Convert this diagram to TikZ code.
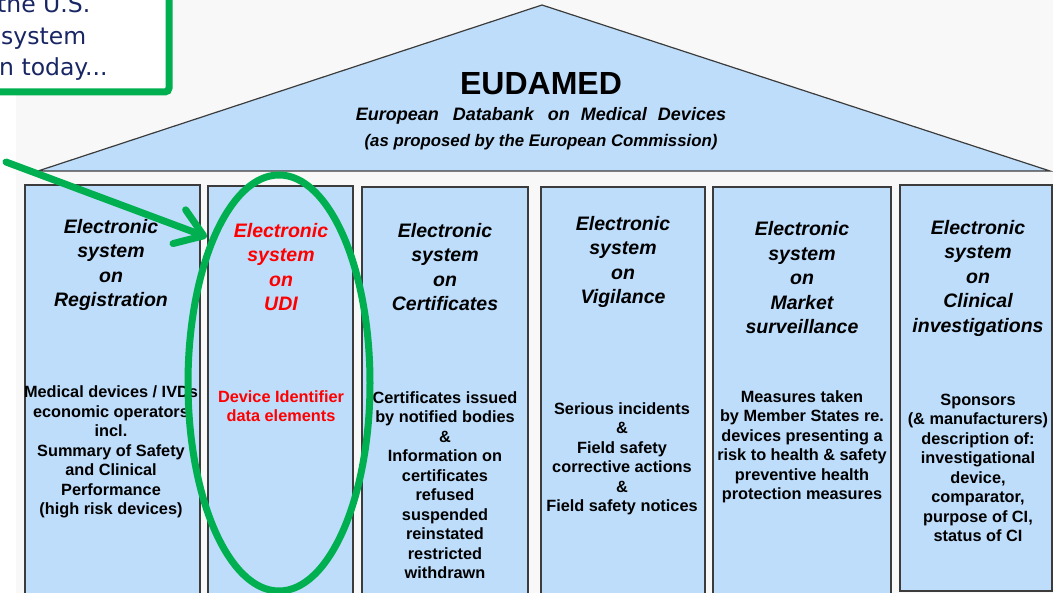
\documentclass[tikz,border=0pt]{standalone}
\usepackage{fontspec}
\setmainfont{Liberation Sans}
\newfontfamily\callfont{DejaVu Sans}
\usetikzlibrary{arrows.meta,shapes.geometric}
\definecolor{boxblue}{RGB}{189,221,251}
\definecolor{edgegray}{RGB}{60,60,60}
\definecolor{hlgreen}{RGB}{0,176,80}
\definecolor{navytext}{RGB}{25,38,100}
\definecolor{bggray}{RGB}{248,248,248}
\definecolor{udired}{RGB}{255,0,0}
\begin{document}
\begin{tikzpicture}[x=1pt,y=-1pt,
  colbox/.style={draw=edgegray, line width=1.3pt, fill=boxblue, anchor=north west, inner sep=0pt, outer sep=0pt},
  ttl/.style={align=center, font=\fontsize{19.5}{24.5}\selectfont\bfseries\itshape, inner sep=0pt},
  bdy/.style={align=center, font=\fontsize{16.3}{19.5}\selectfont\bfseries, inner sep=0pt},
  calltext/.style={anchor=base west, inner sep=0pt, text=navytext, font=\callfont\fontsize{23.5}{30}\selectfont},
  hl/.style={draw=hlgreen, line width=7pt}]
\useasboundingbox (0,0) rectangle (1053,593);
\clip (0,0) rectangle (1053,593);
\fill[bggray] (16,0) rectangle (1053,593);
% roof
\coordinate (rl) at (38,171);
\coordinate (rp) at (542,5);
\coordinate (rr) at (1050,171);
\draw[draw=edgegray, line width=1.2pt, fill=boxblue] (rl) -- (rp) -- (rr) -- cycle;
\node[font=\fontsize{32}{36}\selectfont\bfseries, inner sep=0pt] (eud) at (541,84) {EUDAMED};
\node[font=\fontsize{18}{22}\selectfont\bfseries\itshape, inner sep=0pt] (eud2) at (541,116) {European\hspace{9pt} Databank\hspace{9pt} on\hspace{6pt} Medical\hspace{6pt} Devices};
\node[font=\fontsize{16.8}{20}\selectfont\bfseries\itshape, inner sep=0pt] (eud3) at (541,142) {(as proposed by the European Commission)};
% columns
\node[colbox, minimum width=175pt, minimum height=420pt] (c1) at (25,185) {};
\node[colbox, minimum width=145pt, minimum height=420pt] (c2) at (208,186) {};
\node[colbox, minimum width=166pt, minimum height=420pt] (c3) at (362,187) {};
\node[colbox, minimum width=164pt, minimum height=420pt] (c4) at (541,187) {};
\node[colbox, minimum width=178pt, minimum height=420pt] (c5) at (713,187) {};
\node[colbox, minimum width=152pt, minimum height=406pt] (c6) at (900,185) {};
% titles
\node[ttl] (t1) at (111,265) {Electronic\\system\\on\\Registration};
\node[ttl, text=udired] (t2) at (281,267) {Electronic\\system\\on\\UDI};
\node[ttl] (t3) at (445,267) {Electronic\\system\\on\\Certificates};
\node[ttl] (t4) at (623,262) {Electronic\\system\\on\\Vigilance};
\node[ttl] (t5) at (802,278) {Electronic\\system\\on\\Market\\surveillance};
\node[ttl] (t6) at (978,278) {Electronic\\system\\on\\Clinical\\investigations};
% bodies
\node[bdy] (b1) at (111,452) {Medical devices / IVDs\\economic operators\\incl.\\Summary of Safety\\and Clinical\\Performance\\(high risk devices)};
\node[bdy, text=udired] (b2) at (281,406) {Device Identifier\\data elements};
\node[bdy] (b3) at (445,485) {Certificates issued\\by notified bodies\\\&\\Information on\\certificates\\refused\\suspended\\reinstated\\restricted\\withdrawn};
\node[bdy] (b4) at (622,459) {Serious incidents\\\&\\Field safety\\corrective actions\\\&\\Field safety notices};
\node[bdy] (b5) at (802,447) {Measures taken\\by Member States re.\\devices presenting a\\risk to health \& safety\\preventive health\\protection measures};
\node[bdy] (b6) at (978,468) {Sponsors\\(\& manufacturers)\\description of:\\investigational\\device,\\comparator,\\purpose of CI,\\status of CI};
% callout
\draw[hl, rounded corners=4pt, fill=white] (-20,-20) rectangle (169,92);
\node[calltext] (k1) at (-3,13) {the U.S.};
\node[calltext] (k2) at (1,45) {system};
\node[calltext] (k3) at (-1,76) {n today...};
% highlight ellipse and arrow
\node[ellipse, hl, minimum width=182pt, minimum height=416pt, inner sep=0pt] (ring) at (279,383) {};
\coordinate (astart) at (6,162);
\coordinate (atip) at (207,237);
\draw[hl, line cap=round, line join=round, -{Straight Barb[length=26pt, width=36pt, round]}] (astart) -- (atip);
\end{tikzpicture}
\end{document}
